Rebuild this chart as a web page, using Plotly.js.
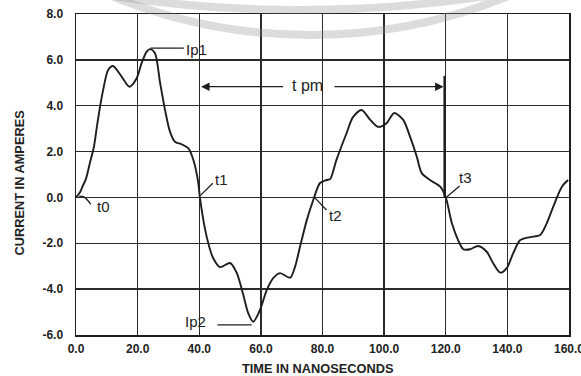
<!DOCTYPE html>
<html>
<head>
<meta charset="utf-8">
<script src="https://cdn.plot.ly/plotly-3.0.1.min.js"></script>
<style>html,body{margin:0;padding:0;background:#fff;}#chart{width:581px;height:376px;}</style>
</head>
<body>
<div id="chart"></div>
<script>
// Time (ns) and current (A)
const timeNs = [0, 1.2, 2.2, 3.2, 4.5, 5.8, 6.8, 7.8, 8.8, 10.4, 12, 14.8, 17.3, 19.7, 21.3, 22.9, 24, 25.6, 27.3, 28.9, 30.5, 32.1, 34.3, 36.5, 38.1, 39.7, 40.2,
  42.4, 44.5, 46.8, 50, 52.2, 54.3, 55.9, 57.5, 59.7, 61.9, 64, 66.2, 69.5, 71.1, 72.7, 74.9, 77, 79.2, 81.3, 82.5,
  84.5, 87.8, 89.9, 92.7, 95.5, 98, 100.8, 103.3, 106.2, 108.4, 110.6, 112.2, 114.9, 118.2, 120,
  122, 124, 125.7, 127.9, 130.5, 133.3, 135.4, 137.7, 139.8, 141.9, 144.2, 147.4, 150.6, 152.8, 154.9, 157.7, 159.7];
const currentA = [0, 0.2, 0.5, 0.8, 1.5, 2.2, 3.1, 3.95, 4.68, 5.55, 5.73, 5.27, 4.83, 5.2, 5.86, 6.35, 6.47, 6.3, 4.99, 3.81, 2.87, 2.43, 2.32, 2.14, 1.63, 0.63, 0,
  -1.71, -2.64, -3.04, -2.86, -3.3, -4.26, -5.05, -5.42, -4.91, -4.04, -3.52, -3.3, -3.5, -3.02, -2.15, -0.99, -0.11, 0.63, 0.76, 0.8,
  1.63, 2.8, 3.5, 3.81, 3.38, 3.08, 3.24, 3.68, 3.38, 2.65, 1.78, 1.06, 0.76, 0.47, 0,
  -1.13, -1.86, -2.26, -2.26, -2.12, -2.37, -2.87, -3.28, -3.08, -2.43, -1.86, -1.73, -1.64, -1.12, -0.4, 0.47, 0.76];

const xTickVals = [0, 20, 40, 60, 80, 100, 120, 140, 160];
const xTickLabels = ['0.0', '20.0', '40.0', '60.0', '80.0', '100.0', '120.0', '140.0', '160.0'];
const yTickVals = [-6, -4, -2, 0, 2, 4, 6, 8];
const yTickLabels = ['-6.0', '-4.0', '-2.0', '0.0', '2.0', '4.0', '6.0', '8.0'];

const ink = '#1e1e1e';
const fam = 'Liberation Sans, Arial, sans-serif';
const tickFont = {family: fam, size: 12, color: '#222', weight: 'bold'};
const titleFont = {family: fam, size: 12.8, color: '#222', weight: 'bold'};
const labFont = {family: fam, size: 15, color: '#222'};
const tFont = {family: fam, size: 15, color: '#222'};

const trace = {
  x: timeNs, y: currentA, type: 'scatter', mode: 'lines',
  line: {color: ink, width: 1.9, shape: 'spline', smoothing: 0.8},
  hoverinfo: 'skip'
};

function seg(x0, y0, x1, y1, w) {
  return {type: 'line', xref: 'x', yref: 'y', x0: x0, y0: y0, x1: x1, y1: y1,
          line: {color: ink, width: w || 1.3}};
}
function lab(text, x, y, f) {
  return {text: text, x: x, y: y, xref: 'x', yref: 'y', showarrow: false,
          xanchor: 'left', yanchor: 'middle', font: f || tFont};
}

const shapes = [
  // faint scanner watermark rings (only their lower edges fall on the page)
  {type: 'circle', xref: 'paper', yref: 'paper', layer: 'above',
   x0: -2.059, x1: 2.968, y0: 1.0125, y1: 8.732, fillcolor: 'rgba(0,0,0,0)',
   line: {color: 'rgba(140,140,140,0.3)', width: 8}},
  {type: 'circle', xref: 'paper', yref: 'paper', layer: 'above',
   x0: -0.588, x1: 1.5375, y0: 0.9346, y1: 4.199, fillcolor: 'rgba(0,0,0,0)',
   line: {color: 'rgba(140,140,140,0.3)', width: 8}},
  seg(24.2, 6.51, 35.0, 6.51),
  seg(45.9, -5.56, 57, -5.56),
  {type: 'path', xref: 'x', yref: 'y', path: 'M 0.9,0 Q 2.2,0.2 4.8,-0.3', line: {color: ink, width: 1.3}},
  seg(40.3, 0.08, 44.4, 0.62),
  seg(77.6, -0.03, 81.3, -0.55),
  seg(120.3, 0.02, 124.5, 0.5),
  seg(119.6, 5.3, 119.6, 0, 2.2)
];

const annotations = [
  lab('Ip1', 35.2, 6.45, labFont),
  {text: 'Ip2', x: 42.8, y: -5.42, xref: 'x', yref: 'y', showarrow: false, xanchor: 'right', yanchor: 'middle', font: labFont},
  lab('t0', 6.3, -0.4),
  lab('t1', 44.3, 0.8),
  lab('t2', 81.3, -0.8),
  lab('t3', 123.5, 0.88),
  {text: 't pm', x: 75.0, y: 4.9, xref: 'x', yref: 'y', showarrow: false, xanchor: 'center', yanchor: 'middle', font: {family: fam, size: 16, color: '#222'}},
  {x: 40.6, y: 4.83, ax: 67.7, ay: 4.83, xref: 'x', yref: 'y', axref: 'x', ayref: 'y', text: '', showarrow: true,
   arrowhead: 2, arrowsize: 1.3, arrowwidth: 1.3, arrowcolor: ink, standoff: 0},
  {x: 119.3, y: 4.83, ax: 83.4, ay: 4.83, xref: 'x', yref: 'y', axref: 'x', ayref: 'y', text: '', showarrow: true,
   arrowhead: 2, arrowsize: 1.3, arrowwidth: 1.3, arrowcolor: ink, standoff: 0},
  // axis titles placed as annotations for exact positioning
  {text: 'TIME IN NANOSECONDS', xref: 'paper', yref: 'paper', x: 0.491, y: -0.103, showarrow: false,
   xanchor: 'center', yanchor: 'middle', font: titleFont},
  {text: 'CURRENT IN AMPERES', xref: 'paper', yref: 'paper', x: -0.1136, y: 0.475, showarrow: false,
   xanchor: 'center', yanchor: 'middle', textangle: -90, font: titleFont}
];

const layout = {
  width: 581, height: 376,
  margin: {l: 76, r: 12, t: 14, b: 41, pad: 0},
  paper_bgcolor: '#fff', plot_bgcolor: 'rgba(0,0,0,0)',
  showlegend: false,
  xaxis: {
    range: [0, 160], tickvals: xTickVals, ticktext: xTickLabels, ticks: '',
    showgrid: true, gridcolor: '#2a2a2a', gridwidth: 1.3,
    showline: true, linecolor: ink, linewidth: 1.5, mirror: true, zeroline: false,
    tickfont: tickFont, ticklabelstandoff: 2, ticklabeloverflow: 'allow'
  },
  yaxis: {
    range: [-6, 8], tickvals: yTickVals, ticktext: yTickLabels, ticks: '',
    showgrid: true, gridcolor: '#2a2a2a', gridwidth: 1.3,
    showline: true, linecolor: ink, linewidth: 1.5, mirror: true, zeroline: false,
    tickfont: tickFont, ticklabelstandoff: 9
  },
  shapes: shapes,
  annotations: annotations
};

Plotly.newPlot('chart', [trace], layout, {displayModeBar: false, staticPlot: true});
</script>
</body>
</html>
